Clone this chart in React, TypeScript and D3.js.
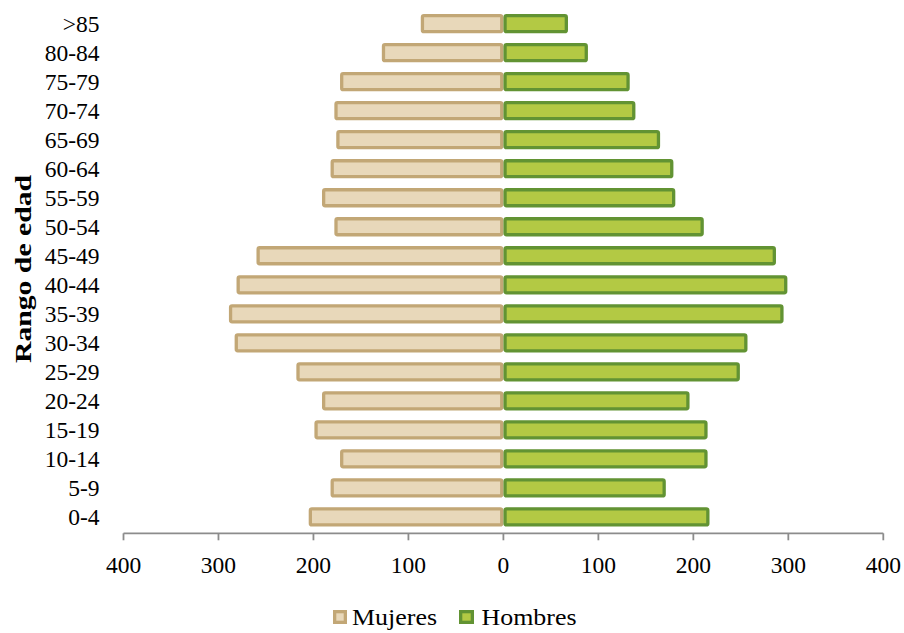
import React from "react";
import * as d3 from "d3";

const categories = ["0-4","5-9","10-14","15-19","20-24","25-29","30-34","35-39","40-44","45-49","50-54","55-59","60-64","65-69","70-74","75-79","80-84",">85"];
const mujeres = [205,182,172,199,191,218,283,289,281,260,178,191,182,176,178,172,128,87];
const hombres = [217,171,215,215,196,249,257,295,299,287,211,181,179,165,139,133,89,68];
const xTicks = [-400,-300,-200,-100,0,100,200,300,400];
const seriesNames = ["Mujeres","Hombres"];

const W = 904, H = 633;
const FONT = "'Liberation Serif','Times New Roman',serif";
const BEIGE_FILL = "#E8D8BA";
const BEIGE_STROKE = "#C2A776";
const GREEN_FILL = "#B3C944";
const GREEN_STROKE = "#629333";
const SW = 3.3;

export default function App() {
  const x = d3.scaleLinear().domain([-400, 400]).range([123.5, 883.3]);
  const topDown = [...categories].reverse();
  const y = d3.scaleBand<string>().domain(topDown).range([9.15, 531.4]).paddingInner(0.335).paddingOuter(0.1675);
  const bw = y.bandwidth();
  const axisY = 533.3;
  const x0 = x(0);

  return (
    <svg width={W} height={H} style={{ position: "absolute", left: 0, top: 0, background: "#fff" }} fontFamily={FONT}>
      {categories.map((c, i) => {
        const yy = y(c)!;
        const xl = x(-mujeres[i]);
        const xr = x(hombres[i]);
        return (
          <g key={c}>
            <rect x={xl + SW / 2} y={yy + SW / 2} width={x0 - xl - SW} height={bw - SW} rx={1.5}
              fill={BEIGE_FILL} stroke={BEIGE_STROKE} strokeWidth={SW} />
            <rect x={x0 + SW / 2} y={yy + SW / 2} width={xr - x0 - SW} height={bw - SW} rx={1.5}
              fill={GREEN_FILL} stroke={GREEN_STROKE} strokeWidth={SW} />
          </g>
        );
      })}
      {categories.map((c) => (
        <text key={"l" + c} x={99.5} y={y(c)! + bw / 2 + 8} textAnchor="end" fontSize={23.5} fill="#000">{c}</text>
      ))}
      <line x1={x(-400)} x2={x(400)} y1={axisY} y2={axisY} stroke="#8C8C8C" strokeWidth={1.8} />
      {xTicks.map((t) => (
        <g key={"t" + t}>
          <line x1={x(t)} x2={x(t)} y1={axisY} y2={axisY + 7} stroke="#8C8C8C" strokeWidth={1.8} />
          <text x={x(t)} y={573} textAnchor="middle" fontSize={23.5} fill="#000">{Math.abs(t)}</text>
        </g>
      ))}
      <text transform={`translate(30.5,269) rotate(-90)`} textAnchor="middle" fontSize={24} fontWeight="bold"
        fill="#000" textLength={188} lengthAdjust="spacingAndGlyphs">Rango de edad</text>
      <rect x={333 + SW / 2} y={610 + SW / 2} width={14 - SW} height={14 - SW} fill={BEIGE_FILL} stroke={BEIGE_STROKE} strokeWidth={SW} />
      <text x={352} y={625} fontSize={23} fill="#000" textLength={85} lengthAdjust="spacingAndGlyphs">{seriesNames[0]}</text>
      <rect x={459 + SW / 2} y={610 + SW / 2} width={15 - SW} height={14 - SW} fill={GREEN_FILL} stroke={GREEN_STROKE} strokeWidth={SW} />
      <text x={481.5} y={625} fontSize={23} fill="#000" textLength={95} lengthAdjust="spacingAndGlyphs">{seriesNames[1]}</text>
    </svg>
  );
}
